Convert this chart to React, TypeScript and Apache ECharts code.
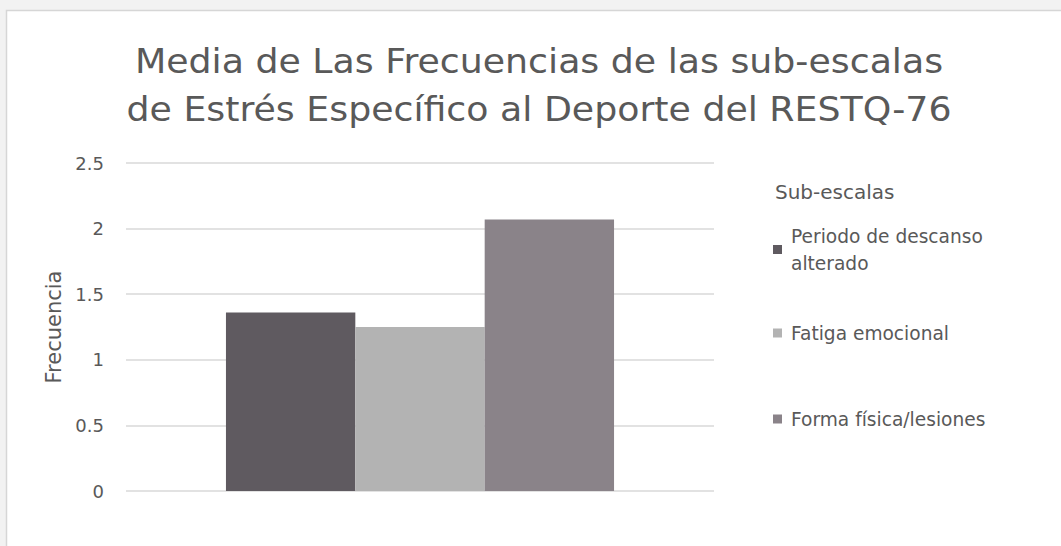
import React, { useEffect, useRef } from "react";
import * as echarts from "echarts";

const titleLines = ["Media de Las Frecuencias de las sub-escalas", "de Estrés Específico al Deporte del RESTQ-76"];
const categories = [""];
const seriesNames = ["Periodo de descanso alterado", "Fatiga emocional", "Forma física/lesiones"];
const seriesLabels = ["Periodo de descanso\nalterado", "Fatiga emocional", "Forma física/lesiones"];
const seriesValues = [[1.36], [1.25], [2.07]];
const seriesColors = ["#5f5a60", "#b3b3b3", "#8a8389"];
const legendTitle = "Sub-escalas";
const yAxisName = "Frecuencia";

const FONT = "'DejaVu Sans', sans-serif";
const TEXT = "#595959";

export default function App() {
  const ref = useRef<HTMLDivElement>(null);
  useEffect(() => {
    if (!ref.current) return;
    const chart = echarts.init(ref.current, undefined, { renderer: "svg" });
    const legendTops = [209, 319.5, 405.5];
    chart.setOption({
      animation: false,
      backgroundColor: "#f2f2f2",
      textStyle: { fontFamily: FONT },
      graphic: [
        {
          type: "rect",
          z: -10,
          shape: { x: 6.5, y: 10.5, width: 1070, height: 560 },
          style: { fill: "#ffffff", stroke: "#d6d6d6", lineWidth: 1.5 },
        },
        {
          type: "text",
          x: 539,
          y: 86,
          scaleX: 1.1,
          style: {
            text: titleLines.join("\n"),
            fill: TEXT,
            font: `33px ${FONT}`,
            lineHeight: 48,
            align: "center",
            verticalAlign: "middle",
          },
        },
        {
          type: "text",
          x: 775,
          y: 192,
          style: {
            text: legendTitle,
            fill: TEXT,
            font: `20px ${FONT}`,
            align: "left",
            verticalAlign: "middle",
          },
        },
      ],
      legend: seriesNames.map((name, i) => ({
        data: [name],
        left: 773,
        top: legendTops[i],
        orient: "vertical",
        padding: 0,
        icon: "rect",
        itemWidth: 9,
        itemHeight: 9,
        selectedMode: false,
        formatter: () => seriesLabels[i],
        textStyle: {
          color: TEXT,
          fontSize: 18.6,
          fontFamily: FONT,
          lineHeight: 27,
          padding: i === 0 ? [27, 0, 0, 4] : [0, 0, 0, 4],
        },
      })),
      grid: { left: 126, right: 347, top: 163, bottom: 55 },
      xAxis: {
        type: "category",
        data: categories,
        axisLine: { show: false },
        axisTick: { show: false },
        axisLabel: { show: false },
      },
      yAxis: {
        type: "value",
        min: 0,
        max: 2.5,
        interval: 0.5,
        name: yAxisName,
        nameLocation: "middle",
        nameRotate: 90,
        nameGap: 57,
        nameTextStyle: { color: TEXT, fontSize: 21, fontFamily: FONT },
        axisLine: { show: false },
        axisTick: { show: false },
        axisLabel: { color: TEXT, fontSize: 18, margin: 22, fontFamily: FONT },
        splitLine: { lineStyle: { color: "#d9d9d9", width: 1.5 } },
      },
      series: seriesNames.map((name, i) => ({
        name,
        type: "bar",
        data: seriesValues[i],
        barGap: "0%",
        barCategoryGap: "34%",
        itemStyle: { color: seriesColors[i] },
      })),
    });
    return () => chart.dispose();
  }, []);
  return (
    <div
      ref={ref}
      style={{ position: "fixed", left: 0, top: 0, width: 1061, height: 546 }}
    />
  );
}
